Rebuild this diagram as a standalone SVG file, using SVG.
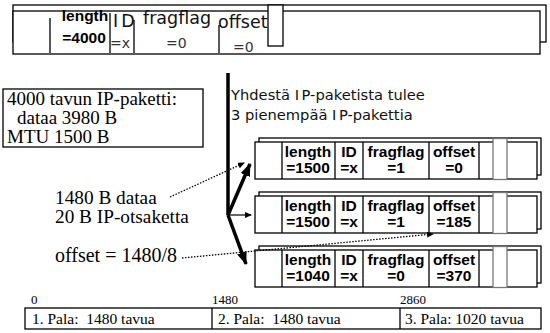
<svg xmlns="http://www.w3.org/2000/svg" width="550" height="333" viewBox="0 0 550 333">
  <style>
    .box { fill: #fff; stroke: #000; stroke-width: 1.3; }
    .grey { fill: #fff; stroke: #777; stroke-width: 1.3; }
    .div { stroke: #000; stroke-width: 1.3; }
    .serif { font-family: "Liberation Serif", "Times New Roman", serif; fill: #000; }
    .bold { font-family: "Liberation Sans", Arial, sans-serif; font-weight: bold; font-size: 15.5px; fill: #000; text-anchor: middle; }
    .hdr { font-family: "DejaVu Sans", Verdana, sans-serif; fill: #111; }
    .val { font-family: "DejaVu Sans", Verdana, sans-serif; fill: #333; font-size: 14px; }
    .thick { stroke: #000; stroke-width: 3.5; fill: none; }
    .thin { stroke: #000; stroke-width: 1.2; fill: none; }
    .dots { stroke: #000; stroke-width: 1.3; stroke-dasharray: 1.5 1.5; fill: none; }
  </style>
  <defs>
    <marker id="bighead" markerUnits="userSpaceOnUse" markerWidth="14" markerHeight="12" refX="12" refY="5" orient="auto">
      <path d="M0,0 L13,5 L0,10 z" fill="#000"/>
    </marker>
    <marker id="smallhead" markerUnits="userSpaceOnUse" markerWidth="8" markerHeight="8" refX="6" refY="3" orient="auto">
      <path d="M0,0 L7,3 L0,6 z" fill="#000"/>
    </marker>
    <!-- one IP fragment header: stacked back frame, front frame, field dividers, grey slot -->
    <g id="frag">
      <rect class="box" x="259" y="138" width="282" height="37"/>
      <rect class="box" x="255" y="142" width="282" height="37"/>
      <line class="div" x1="282" y1="142" x2="282" y2="179"/>
      <line class="div" x1="335" y1="142" x2="335" y2="179"/>
      <line class="div" x1="363" y1="142" x2="363" y2="179"/>
      <line class="div" x1="429" y1="142" x2="429" y2="179"/>
      <line class="div" x1="479" y1="142" x2="479" y2="179"/>
      <rect class="grey" x="493" y="138.5" width="14" height="41"/>
    </g>
  </defs>

  <!-- original 4000-byte datagram header -->
  <g id="original">
    <rect class="box" x="13" y="5" width="533" height="37"/>
    <rect class="box" x="13" y="11" width="527" height="43"/>
    <line class="div" x1="50" y1="18" x2="50" y2="53"/>
    <line class="div" x1="110" y1="13" x2="110" y2="53"/>
    <line class="div" x1="134" y1="20" x2="134" y2="53"/>
    <line class="div" x1="219" y1="25" x2="219" y2="53"/>
    <text class="bold" x="85" y="21" font-size="16.7">length</text>
    <text class="bold" x="84" y="42.5" font-size="16.7">=4000</text>
    <text class="hdr" x="113" y="26.5" font-size="17.5">I<tspan dx="3">D</tspan></text>
    <text class="val" x="110" y="48">=x</text>
    <text class="hdr" x="143" y="24" font-size="17.5">fragflag</text>
    <text class="val" x="166" y="48">=0</text>
    <text class="hdr" x="218" y="28" font-size="17.5">offset</text>
    <text class="val" x="233" y="52">=0</text>
    <rect class="box" x="268" y="5" width="15" height="41"/>
  </g>

  <!-- explanation box -->
  <g id="info">
    <rect class="box" x="3" y="89" width="200" height="58"/>
    <text class="serif" x="7" y="105" font-size="19">4000 tavun IP-paketti:</text>
    <text class="serif" x="17" y="124" font-size="19">dataa 3980 B</text>
    <text class="serif" x="7" y="143" font-size="19">MTU 1500 B</text>
  </g>

  <g id="caption">
    <text class="hdr" x="231" y="100" font-size="14.7">Yhdestä I<tspan dx="2.5">P-paketista tulee</tspan></text>
    <text class="hdr" x="231" y="120" font-size="14.7">3 pienempää I<tspan dx="2.5">P-pakettia</tspan></text>
  </g>

  <!-- fragments -->
  <g id="fragment1">
    <use href="#frag"/>
    <text class="bold" x="308" y="157">length</text>
    <text class="bold" x="308" y="173">=1500</text>
    <text class="bold" x="349" y="157">ID</text>
    <text class="bold" x="349" y="173">=x</text>
    <text class="bold" x="396" y="157">fragflag</text>
    <text class="bold" x="396" y="173">=1</text>
    <text class="bold" x="454" y="157">offset</text>
    <text class="bold" x="454" y="173">=0</text>
  </g>
  <g id="fragment2" transform="translate(0,54)">
    <use href="#frag"/>
    <text class="bold" x="308" y="157">length</text>
    <text class="bold" x="308" y="173">=1500</text>
    <text class="bold" x="349" y="157">ID</text>
    <text class="bold" x="349" y="173">=x</text>
    <text class="bold" x="396" y="157">fragflag</text>
    <text class="bold" x="396" y="173">=1</text>
    <text class="bold" x="454" y="157">offset</text>
    <text class="bold" x="454" y="173">=185</text>
  </g>
  <g id="fragment3" transform="translate(0,108)">
    <use href="#frag"/>
    <text class="bold" x="308" y="157">length</text>
    <text class="bold" x="308" y="173">=1040</text>
    <text class="bold" x="349" y="157">ID</text>
    <text class="bold" x="349" y="173">=x</text>
    <text class="bold" x="396" y="157">fragflag</text>
    <text class="bold" x="396" y="173">=0</text>
    <text class="bold" x="454" y="157">offset</text>
    <text class="bold" x="454" y="173">=370</text>
  </g>

  <!-- side notes -->
  <g id="notes">
    <text class="serif" x="55" y="203.5" font-size="19.3">1480 B dataa</text>
    <text class="serif" x="55" y="223" font-size="19.3">20 B IP-otsaketta</text>
    <text class="serif" x="55" y="262" font-size="20">offset = 1480/8</text>
  </g>

  <!-- connectors -->
  <g id="connectors">
    <line class="thick" x1="228" y1="73" x2="228" y2="215"/>
    <line class="thick" x1="228" y1="215" x2="250" y2="164" marker-end="url(#bighead)"/>
    <line class="thick" x1="228" y1="215" x2="246" y2="264" marker-end="url(#bighead)"/>
    <line class="thin" x1="228" y1="215" x2="251" y2="215" marker-end="url(#smallhead)"/>
    <line class="dots" x1="170" y1="197" x2="244" y2="163" marker-end="url(#smallhead)"/>
    <line class="dots" x1="182" y1="258" x2="433" y2="234" marker-end="url(#smallhead)"/>
  </g>

  <!-- byte scale -->
  <g id="scale">
    <text class="serif" x="31" y="304" font-size="13">0</text>
    <text class="serif" x="212" y="304" font-size="13">1480</text>
    <text class="serif" x="400" y="304" font-size="13">2860</text>
    <rect class="box" x="25" y="308" width="516" height="21"/>
    <line class="div" x1="212" y1="308" x2="212" y2="329"/>
    <line class="div" x1="400" y1="308" x2="400" y2="329"/>
    <text class="serif" x="32" y="324" font-size="15.5" xml:space="preserve">1. Pala:  1480 tavua</text>
    <text class="serif" x="218" y="324" font-size="15.5" xml:space="preserve">2. Pala:  1480 tavua</text>
    <text class="serif" x="405" y="324" font-size="15.5">3. Pala: 1020 tavua</text>
  </g>
</svg>
